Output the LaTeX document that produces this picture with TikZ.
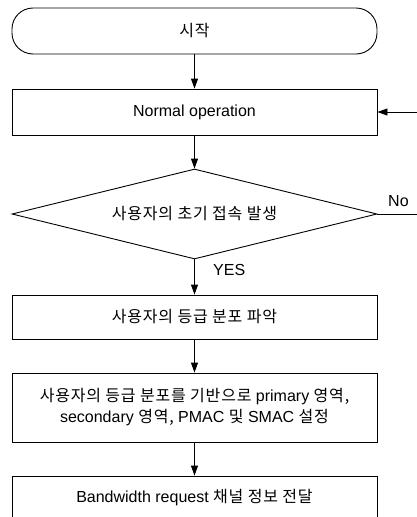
\documentclass[tikz,border=0pt]{standalone}
\usepackage{fontspec}
\setmainfont{Liberation Sans}
\newfontfamily\kr[LetterSpace=5]{Noto Sans CJK KR}
\usetikzlibrary{shapes.geometric,arrows.meta}

\tikzset{
  flow/.style={draw, line width=0.9pt, align=center, inner sep=2pt},
  procbox/.style={flow, rectangle, minimum width=365pt},
  startbox/.style={flow, rectangle, rounded corners=21pt, minimum width=365pt, minimum height=46pt},
  decbox/.style={flow, diamond, aspect=4.05, minimum width=365pt, minimum height=90pt, inner sep=0pt},
  link/.style={line width=0.9pt, -{Triangle[length=10pt,width=7pt]}},
  plain/.style={line width=0.9pt},
  lbl/.style={inner sep=0pt}
}

\begin{document}
\begin{tikzpicture}[x=1pt, y=-1pt, font=\fontsize{16}{21}\selectfont]
  \useasboundingbox (0,0) rectangle (417,517);
  \clip (0,0) rectangle (417,517);

  % flowchart steps
  \node[startbox] (start) at (194.5,31) {\kr 시작};
  \node[procbox, minimum height=46pt] (normal) at (194.5,112) {Normal operation};
  \node[decbox] (decide) at (194.5,214) {\kr 사용자의 초기 접속 발생};
  \node[procbox, minimum height=44pt] (grade) at (194.5,317) {\kr 사용자의 등급 분포 파악};
  \node[procbox, minimum height=69pt] (config) at (194.5,407.5)
    {{\kr 사용자의 등급 분포를 기반으로} primary {\kr 영역,}\\
     secondary {\kr 영역,} PMAC {\kr 및} SMAC {\kr 설정}};
  \node[procbox, minimum height=44pt] (bw) at (194.5,498) {Bandwidth request {\kr 채널 정보 전달}};

  % loose ends on the right side
  \coordinate (noend) at (417,214);
  \coordinate (loopin) at (417,112);

  % connectors
  \draw[link] (start) -- (normal);
  \draw[link] (normal) -- (decide);
  \draw[link] (decide.south) -- (grade);
  \draw[link] (grade) -- (config);
  \draw[link] (config) -- (bw);
  \draw[plain] (decide.east) -- (noend);
  \draw[link] (loopin) -- (normal.east);

  % branch labels
  \node[lbl, anchor=west] (yes) at (213,270) {YES};
  \node[lbl, anchor=west] (no) at (388,201) {No};
\end{tikzpicture}
\end{document}
